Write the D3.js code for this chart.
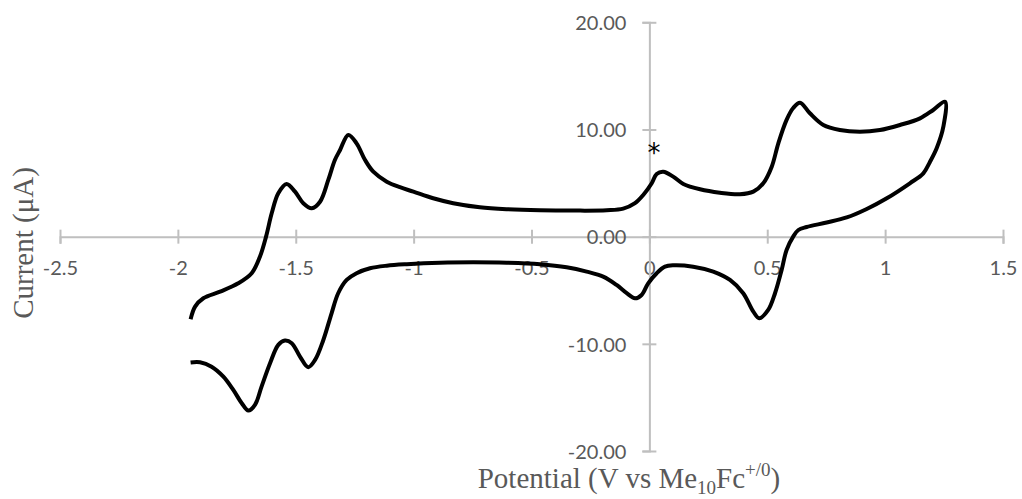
<!DOCTYPE html>
<html>
<head>
<meta charset="utf-8">
<script src="https://cdn.jsdelivr.net/npm/d3@7"></script>
<style>
  html, body { margin: 0; padding: 0; background: #ffffff; }
  svg { display: block; }
</style>
</head>
<body>
<svg id="chart" width="1022" height="499"></svg>
<script>
const potential = [
  -1.946, -1.927, -1.892, -1.821, -1.744, -1.687, -1.652, -1.626, -1.602, -1.574,
  -1.539, -1.503, -1.468, -1.432, -1.397, -1.362, -1.334, -1.312, -1.277, -1.242,
  -1.206, -1.171, -1.114, -1.058, -1.001, -0.917, -0.832, -0.719, -0.605, -0.464,
  -0.323, -0.181, -0.111, -0.061, -0.026, 0.010, 0.031, 0.059, 0.101, 0.144,
  0.215, 0.299, 0.384, 0.441, 0.483, 0.519, 0.547, 0.582, 0.610, 0.639,
  0.681, 0.738, 0.808, 0.893, 0.978, 1.063, 1.148, 1.204, 1.254,
  1.247, 1.219, 1.190, 1.162, 1.105, 1.007, 0.922, 0.837, 0.752, 0.667,
  0.632, 0.610, 0.582, 0.561, 0.533, 0.504, 0.466, 0.441, 0.398, 0.342,
  0.271, 0.186, 0.101, 0.066, 0.031, -0.005, -0.033, -0.061, -0.096, -0.139,
  -0.196, -0.266, -0.351, -0.464, -0.605, -0.747, -0.888, -1.029, -1.114, -1.185,
  -1.242, -1.284, -1.320, -1.348, -1.383, -1.418, -1.447, -1.482, -1.517, -1.546,
  -1.574, -1.609, -1.645, -1.673, -1.701, -1.729, -1.765, -1.807, -1.857, -1.906,
  -1.946
];
const current = [
  -7.71, -6.53, -5.75, -5.13, -4.35, -3.41, -1.87, 0.00, 2.18, 4.05,
  4.92, 4.20, 3.12, 2.65, 3.26, 5.29, 7.15, 8.09, 9.49, 8.71,
  7.15, 6.06, 5.13, 4.61, 4.20, 3.58, 3.12, 2.74, 2.56, 2.46,
  2.43, 2.46, 2.61, 3.12, 3.89, 4.98, 5.85, 6.06, 5.60, 4.92,
  4.42, 4.10, 3.96, 4.20, 4.98, 6.53, 8.71, 10.89, 12.00, 12.50,
  11.51, 10.42, 9.95, 9.79, 9.95, 10.42, 11.04, 11.82, 12.59,
  10.26, 8.27, 6.97, 5.91, 4.98, 3.58, 2.58, 1.79, 1.32, 0.90,
  0.62, 0.00, -1.24, -3.11, -5.28, -6.84, -7.61, -7.00, -5.28, -4.04,
  -3.26, -2.80, -2.67, -2.80, -3.41, -4.35, -5.44, -5.75, -5.28, -4.51,
  -3.73, -3.26, -2.85, -2.57, -2.43, -2.39, -2.43, -2.57, -2.71, -2.95,
  -3.41, -4.04, -5.28, -7.15, -9.64, -11.50, -12.18, -11.19, -9.94, -9.70,
  -10.10, -11.81, -13.99, -15.70, -16.23, -15.54, -14.30, -13.06, -12.13, -11.72,
  -11.74
];
const xTicks = [-2.5, -2, -1.5, -1, -0.5, 0, 0.5, 1, 1.5];
const xTickLabels = ["-2.5", "-2", "-1.5", "-1", "-0.5", "0", "0.5", "1", "1.5"];
const yTicks = [-20, -10, 0, 10, 20];
const yTickLabels = ["-20.00", "-10.00", "0.00", "10.00", "20.00"];
const xTitle = ["Potential (V vs Me", "10", "Fc", "+/0", ")"];
const yTitle = "Current (μA)";
const annotation = { potential: 0.02, current: 8.4, text: "*" };

// ---- Layout ----
const svg = d3.select("#chart");
const x = d3.scaleLinear().domain([-2.5, 1.5]).range([60, 1003]);
const y = d3.scaleLinear().domain([-20, 20]).range([451, 22.3]);

const axisColor = "#bfbfbf";
const labelColor = "#595959";
const tickFont = "Lato, 'Open Sans', sans-serif";

// X axis (crossing at y = 0)
const gx = svg.append("g")
  .attr("transform", `translate(0,${y(0)})`)
  .call(d3.axisBottom(x).tickValues(xTicks)
    .tickFormat((d, i) => xTickLabels[i]).tickSize(7).tickPadding(0));
gx.select(".domain").attr("stroke", axisColor).attr("stroke-width", 2);
gx.selectAll(".tick line").attr("stroke", axisColor).attr("stroke-width", 2).attr("y1", -7).attr("y2", 7);
gx.selectAll(".tick text")
  .attr("y", 38).attr("dy", null)
  .attr("fill", labelColor)
  .style("font-family", tickFont).style("font-size", "20px");

// Y axis (crossing at x = 0)
const gy = svg.append("g")
  .attr("transform", `translate(${x(0)},0)`)
  .call(d3.axisLeft(y).tickValues(yTicks)
    .tickFormat((d, i) => yTickLabels[i]).tickSize(7).tickPadding(0));
gy.select(".domain").attr("stroke", axisColor).attr("stroke-width", 2);
gy.selectAll(".tick line").attr("stroke", axisColor).attr("stroke-width", 2).attr("x1", 7).attr("x2", -7);
gy.selectAll(".tick text")
  .attr("x", -23).attr("dy", "0.36em")
  .attr("fill", labelColor)
  .style("font-family", tickFont).style("font-size", "20px");

// Curve
const pts = potential.map((p, i) => [p, current[i]]);
const line = d3.line()
  .x(d => x(d[0])).y(d => y(d[1]))
  .curve(d3.curveCatmullRom.alpha(0.5));
svg.append("path")
  .datum(pts)
  .attr("d", line)
  .attr("fill", "none")
  .attr("stroke", "#000000")
  .attr("stroke-width", 4)
  .attr("stroke-linejoin", "round")
  .attr("stroke-linecap", "butt");

// Annotation asterisk (glyph centred on the anchor point)
svg.append("text")
  .attr("x", x(annotation.potential)).attr("y", y(annotation.current))
  .attr("dy", "0.6em")
  .attr("text-anchor", "middle")
  .attr("fill", "#000000")
  .style("font-family", "'DejaVu Sans', sans-serif").style("font-size", "26px")
  .text(annotation.text);

// Axis titles
const serif = "'Liberation Serif', 'Times New Roman', serif";
const xt = svg.append("text")
  .attr("x", 629).attr("y", 488)
  .attr("text-anchor", "middle")
  .attr("fill", labelColor)
  .style("font-family", serif).style("font-size", "29px");
xt.append("tspan").text(xTitle[0]);
xt.append("tspan").attr("dy", "6").style("font-size", "19px").text(xTitle[1]);
xt.append("tspan").attr("dy", "-6").text(xTitle[2]);
xt.append("tspan").attr("dy", "-12").style("font-size", "19px").text(xTitle[3]);
xt.append("tspan").attr("dy", "12").text(xTitle[4]);

svg.append("text")
  .attr("transform", `translate(33,243) rotate(-90)`)
  .attr("text-anchor", "middle")
  .attr("fill", labelColor)
  .style("font-family", serif).style("font-size", "29px")
  .text(yTitle);
</script>
</body>
</html>
